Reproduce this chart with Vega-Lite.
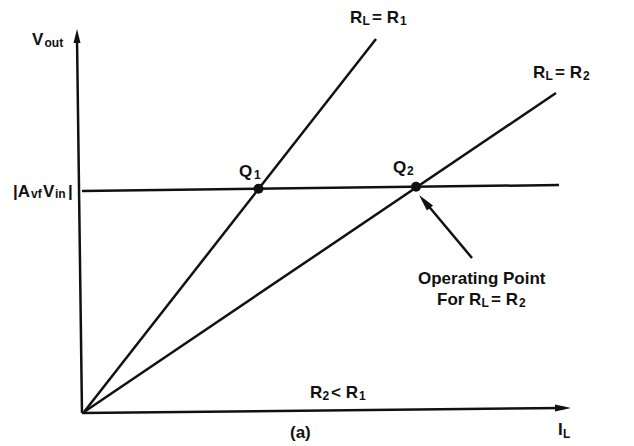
{
  "$schema": "https://vega.github.io/schema/vega-lite/v6.json",
  "width": 634,
  "height": 446,
  "padding": 0,
  "autosize": {"type": "none"},
  "background": "white",
  "config": {"view": {"stroke": null}},
  "datasets": {
    "segments": [
      {"seg": "yaxis", "x": 0, "y": 0},
      {"seg": "yaxis", "x": -0.5, "y": 37.5},
      {"seg": "xaxis", "x": 0, "y": 0},
      {"seg": "xaxis", "x": 48.2, "y": 0.5},
      {"seg": "level", "x": 0, "y": 22.2},
      {"seg": "level", "x": 47.7, "y": 22.8},
      {"seg": "R1", "x": 0.2, "y": 0.1},
      {"seg": "R1", "x": 29.4, "y": 37.4},
      {"seg": "R2", "x": 0.2, "y": 0.1},
      {"seg": "R2", "x": 47.4, "y": 32.0},
      {"seg": "pointer", "x": 39.0, "y": 15.5},
      {"seg": "pointer", "x": 34.4, "y": 21.0}
    ],
    "heads": [
      {"kind": "up", "x": -0.5, "y": 37.7},
      {"kind": "right", "x": 48.1, "y": 0.5},
      {"kind": "pointer", "x": 34.25, "y": 21.15}
    ],
    "dots": [
      {"name": "Q1", "x": 17.65, "y": 22.42},
      {"name": "Q2", "x": 33.4, "y": 22.62}
    ],
    "labels": [
      {"text": "V", "x": -5.0, "y": 36.8},
      {"text": "|A", "x": -6.9, "y": 21.6},
      {"text": "V", "x": -3.9, "y": 21.6},
      {"text": "|", "x": -1.4, "y": 21.6},
      {"text": "Q", "x": 15.7, "y": 23.6},
      {"text": "Q", "x": 31.1, "y": 24.0},
      {"text": "R", "x": 26.8, "y": 39.0},
      {"text": "= R", "x": 29.0, "y": 39.0},
      {"text": "R", "x": 45.1, "y": 33.5},
      {"text": "= R", "x": 47.3, "y": 33.5},
      {"text": "Operating Point", "x": 33.6, "y": 12.9},
      {"text": "For R", "x": 35.5, "y": 10.8},
      {"text": "= R", "x": 40.9, "y": 10.8},
      {"text": "R", "x": 22.8, "y": 1.5},
      {"text": "< R", "x": 24.9, "y": 1.5},
      {"text": "(a)", "x": 20.8, "y": -2.5},
      {"text": "I", "x": 47.6, "y": -2.2}
    ],
    "subs": [
      {"text": "out", "x": -3.75, "y": 36.6},
      {"text": "vf", "x": -5.1, "y": 21.5},
      {"text": "in", "x": -2.7, "y": 21.5},
      {"text": "1", "x": 17.2, "y": 23.4},
      {"text": "2", "x": 32.5, "y": 23.8},
      {"text": "L", "x": 28.05, "y": 38.8},
      {"text": "1", "x": 31.8, "y": 38.8},
      {"text": "L", "x": 46.35, "y": 33.3},
      {"text": "2", "x": 50.1, "y": 33.3},
      {"text": "L", "x": 39.95, "y": 10.6},
      {"text": "2", "x": 43.7, "y": 10.6},
      {"text": "2", "x": 24.05, "y": 1.3},
      {"text": "1", "x": 27.7, "y": 1.3},
      {"text": "L", "x": 48.1, "y": -2.5}
    ]
  },
  "encoding": {
    "x": {"field": "x", "type": "quantitative", "axis": null, "scale": {"domain": [-8.2, 55.2], "nice": false, "zero": false}},
    "y": {"field": "y", "type": "quantitative", "axis": null, "scale": {"domain": [-3.3, 41.3], "nice": false, "zero": false}}
  },
  "layer": [
    {
      "data": {"name": "segments"},
      "mark": {"type": "line", "color": "#111", "strokeCap": "butt"},
      "encoding": {
        "detail": {"field": "seg", "type": "nominal"},
        "strokeWidth": {"field": "seg", "type": "nominal", "legend": null,
          "scale": {"domain": ["yaxis", "xaxis", "level", "R1", "R2", "pointer"], "range": [2.5, 2.5, 2, 3.5, 3.5, 1.6]}}
      }
    },
    {
      "data": {"name": "heads"},
      "transform": [{"filter": "datum.kind === 'up'"}],
      "mark": {"type": "point", "filled": true, "color": "#111", "opacity": 1, "size": 196, "shape": "M0,-1L0.5,1L-0.5,1Z"}
    },
    {
      "data": {"name": "heads"},
      "transform": [{"filter": "datum.kind === 'right'"}],
      "mark": {"type": "point", "filled": true, "color": "#111", "opacity": 1, "size": 256, "shape": "M1,0L-1,0.45L-1,-0.45Z"}
    },
    {
      "data": {"name": "heads"},
      "transform": [{"filter": "datum.kind === 'pointer'"}],
      "mark": {"type": "point", "filled": true, "color": "#111", "opacity": 1, "size": 289, "angle": 230, "shape": "M1,0L-1,0.47L-1,-0.47Z"}
    },
    {
      "data": {"name": "dots"},
      "mark": {"type": "point", "filled": true, "color": "#111", "opacity": 1, "size": 100, "shape": "circle"}
    },
    {
      "data": {"name": "labels"},
      "mark": {"type": "text", "align": "left", "baseline": "alphabetic", "font": "Liberation Sans", "fontWeight": "bold", "fontSize": 17, "color": "#111"},
      "encoding": {"text": {"field": "text", "type": "nominal"}}
    },
    {
      "data": {"name": "subs"},
      "mark": {"type": "text", "align": "left", "baseline": "alphabetic", "font": "Liberation Sans", "fontWeight": "bold", "fontSize": 12, "color": "#111"},
      "encoding": {"text": {"field": "text", "type": "nominal"}}
    }
  ]
}
